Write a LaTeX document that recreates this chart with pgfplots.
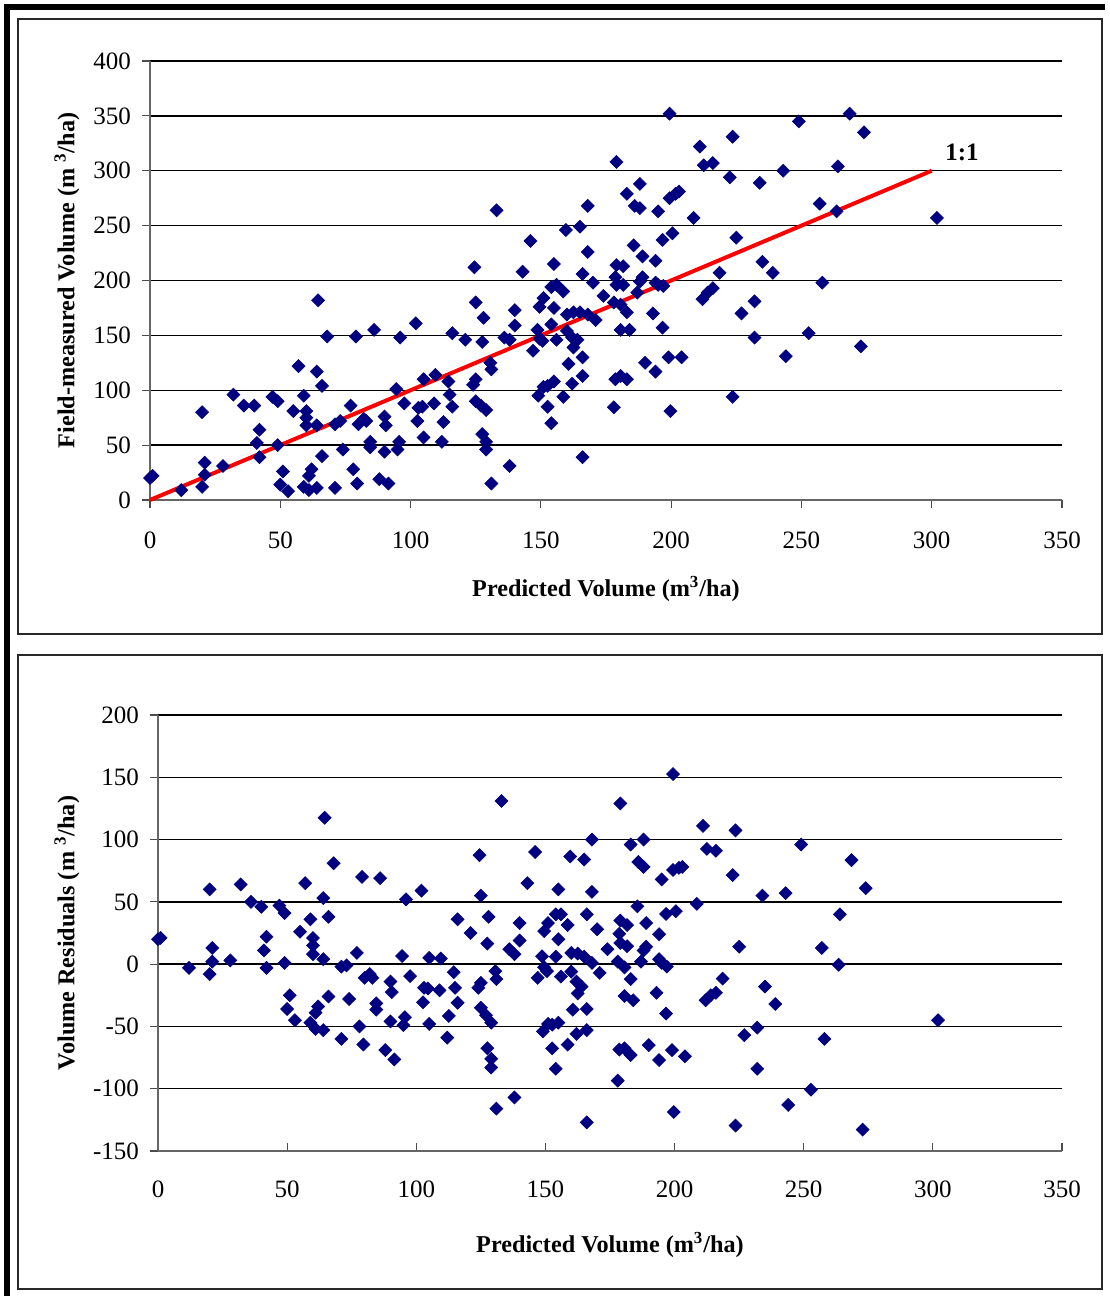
\documentclass[border=0pt]{standalone}
\usepackage{pgfplots}
\pgfplotsset{compat=1.18}
\usepackage{pgfplotstable}
\usepackage{fontspec}
\setmainfont{Liberation Serif}
\definecolor{navyblue}{RGB}{0,0,128}
\definecolor{frame}{RGB}{40,40,40}

\pgfplotstableread{
x y r
0 20 20
1 22 21
12 9 -3
20 80 60
21 34 13
21 23 2
20 12 -8
28 31 3
32 96 64
36 86 50
40 86 46
42 64 22
41 52 11
42 39 -3
47 94 47
49 90 41
49 50 1
51 26 -25
50 14 -36
53 8 -45
57 122 65
55 81 26
59 95 36
60 81 21
60 75 15
60 68 8
64 117 53
64.5 182 117.5
66 104 38
64 68 4
66 40 -26
62 28 -34
61 22 -39
59 12 -47
61 9 -52
64 11 -53
68 149 81
71 11 -60
71 69 -2
73 72 -1
74 46 -28
77 86 9
78 28 -50
79.5 15 -64.5
79 149 70
80 69 -11
82 74 -8
83 72 -11
84.5 53 -31.5
84.5 48 -36.5
86 155 69
88 19 -69
91.5 15 -76.5
90 76 -14
90.5 68 -22.5
90 44 -46
95 46 -49
95.6 53 -42.6
96 148 52
94.5 101 6.5
97.6 88 -9.6
102 161 59
102.6 72 -30.6
103 84 -19
125 180 55
128 166 38
116 152 36
121 146 25
127.5 144 16.5
140 173 33
140 159 19
136 148 12
138 146 8
130.6 125 -5.6
131 119 -12
105 110 5
109.5 114 4.5
114.5 108 -6.5
115 96 -19
116 85 -31
109 88 -21
104.5 85 -19.5
112.6 71 -41.6
105 57 -48
112 53 -59
125 110 -15
124 105 -19
125 90 -35
127 86 -41
129 82 -47
127.5 60 -67.5
129 53 -76
129 46 -83
138 31 -107
131 15 -116
149.5 176 26.5
151 184 33
155 175 20
154 194 40
156 196 40
158.6 190 31.4
154 160 6
148.7 155 6.3
149.5 147 -2.5
150.6 145 -5.6
156 146 -10
147 136 -11
160 169 9
162.5 171 8.5
165 171 6
168 169 1
171 164 -7
160 154 -6
162 148 -14
164 146 -18
162.5 139 -23.5
166 130 -36
160.6 124 -36.6
166 113 -53
162 106 -56
151 103 -48
152.6 104 -48.6
155 108 -47
149 95 -54
158.6 94 -64.6
152.6 85 -67.6
154 70 -84
166 39 -127
170 198 28
174 186 12
179 196 17
181.6 196 14.4
178 180 2
180.6 178 -2.6
183 171 -12
180.6 155 -25.6
184 155 -29
187 189 2
188 199 11
193 170 -23
196.7 157 -39.7
195 196 1
197 195 -2
190 125 -65
194 117 -77
199 130 -69
178.6 110 -68.6
180.6 113 -67.6
183 110 -73
178 84.5 -93.5
199.7 81 -118.7
199.4 352 152.6
179 308 129
188 288 100
183 279 96
186 268 82
188 266 78
195 263 68
199.4 275 75.6
201.7 279 77.3
133 264 131
168 268 100
165 249 84
159.6 246 86.4
146 236 90
168 226 58
185.6 232 46.4
189 222 33
194 218 24
200.5 243 42.5
196.7 237 40.3
124.5 212 87.5
143 208 65
155 215 60
166 206 40
179 214 35
181.6 213 31.4
178.6 203 24.4
189 203 14
194 198 4
249 345 96
268.5 352 83.5
274 335 61
211 322 111
223.6 331 107.4
212.5 305 92.5
216 307 91
222.5 294 71.5
234 289 55
243 300 57
264 304 40
203 281 78
208.6 257 48.4
225 239 14
257 270 13
263.5 263 -0.5
302 257 -45
235 217 -18
239 207 -32
218.6 207 -11.6
258 198 -60
216 193 -23
214 189 -25
212 183 -29
232 181 -51
227 170 -57
232 148 -84
252.8 152 -100.8
272.8 140 -132.8
204 130 -74
244 131 -113
223.6 94 -129.6
}\datatable

\pgfplotsset{
  refstyle/.style={
    scale only axis,
    anchor=south west,
    xmin=0, xmax=350,
    xtick={0,50,...,350},
    axis x line*=bottom, axis y line*=left,
    ymajorgrids,
    grid style={black, line width=0.7pt},
    axis line style={black!60, line width=0.7pt},
    tick style={black!70, line width=0.6pt},
    major tick length=4pt,
    ytick pos=left,
    /pgf/number format/assume math mode=true,
    ticklabel style={font=\fontsize{12.5}{14}\selectfont},
    label style={font=\bfseries\fontsize{12.1}{14}\selectfont},
    clip=false,
  }
}

\begin{document}
\begin{tikzpicture}
\path[use as bounding box] (0,0) rectangle (554.5pt,648pt);
% outer thick frame
\fill[black] (2pt,643pt) rectangle (552.5pt,646pt);
\fill[black] (2pt,0pt) rectangle (5pt,646pt);
% panel boxes
\draw[frame, line width=1pt] (9pt,331pt) rectangle (551pt,638.5pt);
\draw[frame, line width=1pt] (9pt,3.5pt) rectangle (551pt,320.5pt);

\begin{axis}[refstyle,
  at={(75pt,398pt)},
  width=456pt, height=219.5pt,
  ymin=0, ymax=400,
  ytick={0,50,...,400},
  tick align=outside,
  xticklabel style={yshift=-8.5pt},
  yticklabel style={xshift=-2pt},
  xlabel={Predicted Volume (m\textsuperscript{3}/ha)},
  ylabel={Field-measured Volume (m \textsuperscript{3}/ha)},
  xlabel style={at={(axis description cs:0.5,-0.2027)}, anchor=center},
  ylabel style={at={(axis description cs:-0.091,0.5)}, anchor=center},
]
\addplot[red, line width=2pt, no marks] coordinates {(0,0) (300,300)};
\addplot[only marks, mark=square*, mark size=2.3pt,
  mark options={rotate=45, fill=navyblue, draw=navyblue, line width=0.3pt}]
  table[x=x, y=y] {\datatable};
\node[font=\bfseries\fontsize{12.5}{15}\selectfont] at (axis cs:311.6,317.1) {1:1};
\end{axis}

\begin{axis}[refstyle,
  at={(79pt,72.5pt)},
  width=452pt, height=218pt,
  ymin=-150, ymax=200,
  ytick={-150,-100,...,200},
  xtick align=inside, ytick align=outside,
  xticklabel style={yshift=-11.5pt},
  yticklabel style={xshift=-2pt},
  xlabel={Predicted Volume (m\textsuperscript{3}/ha)},
  ylabel={Volume Residuals (m \textsuperscript{3}/ha)},
  xlabel style={at={(axis description cs:0.5,-0.2156)}, anchor=center},
  ylabel style={at={(axis description cs:-0.1007,0.5)}, anchor=center},
]
\addplot[only marks, mark=square*, mark size=2.3pt,
  mark options={rotate=45, fill=navyblue, draw=navyblue, line width=0.3pt}]
  table[x=x, y=r] {\datatable};
\end{axis}
\end{tikzpicture}
\end{document}
